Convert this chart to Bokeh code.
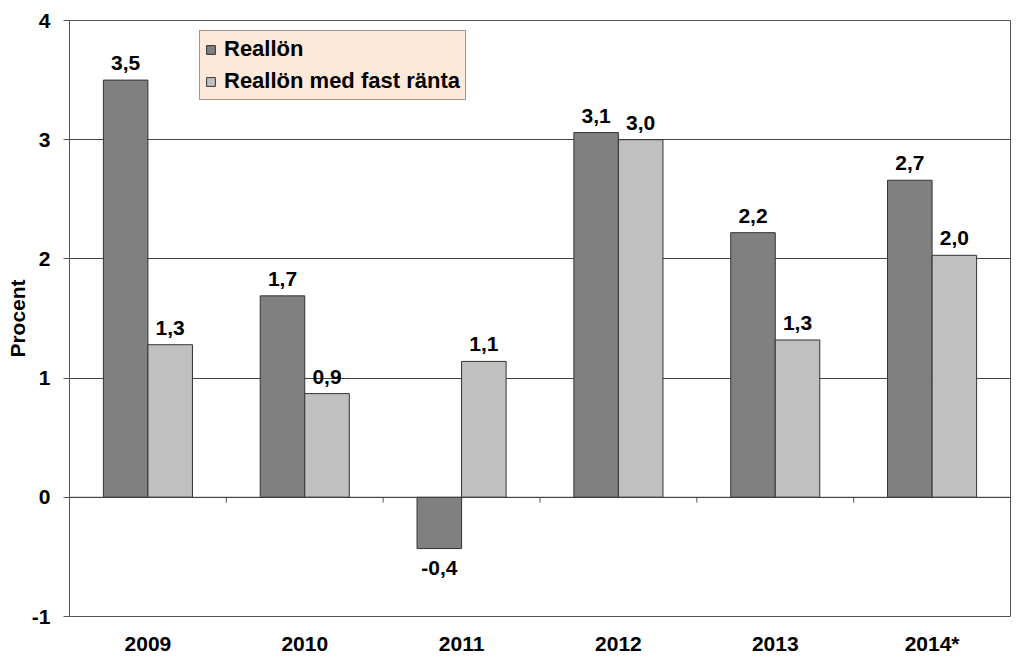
from bokeh.plotting import figure
from bokeh.models import ColumnDataSource, FixedTicker, Span, Legend, LegendItem, LabelSet
from bokeh.core.properties import value
from bokeh.embed import file_html
from bokeh.resources import INLINE

years = ["2009", "2010", "2011", "2012", "2013", "2014*"]
reallon = [3.50, 1.69, -0.43, 3.06, 2.22, 2.66]
fast = [1.28, 0.87, 1.14, 3.00, 1.32, 2.03]
reallon_lbl = ["3,5", "1,7", "-0,4", "3,1", "2,2", "2,7"]
fast_lbl = ["1,3", "0,9", "1,1", "3,0", "1,3", "2,0"]
y_ticks = [-1, 0, 1, 2, 3, 4]

FONT = "Liberation Sans"
FS = "21px"
BW = 0.284
idx = list(range(len(years)))

src_a = ColumnDataSource(dict(x=[i + 0.5 - BW / 2 for i in idx], top=reallon))
src_b = ColumnDataSource(dict(x=[i + 0.5 + BW / 2 for i in idx], top=fast))

p = figure(frame_width=941, frame_height=596, x_range=(0, len(years)), y_range=(-1, 4),
           output_backend="svg", toolbar_location=None,
           min_border_left=69, min_border_top=20, min_border_right=6, min_border_bottom=43)
p.background_fill_color = "white"
p.outline_line_color = "#555555"
p.outline_line_width = 1

# y axis
p.yaxis.ticker = FixedTicker(ticks=y_ticks)
p.yaxis.major_label_overrides = {t: str(t) for t in y_ticks}
p.yaxis.axis_line_color = "#555555"
p.yaxis.major_tick_out = 6
p.yaxis.major_tick_in = 0
p.yaxis.major_tick_line_color = "#555555"
p.yaxis.minor_tick_line_color = None
p.yaxis.major_label_text_font = FONT
p.yaxis.major_label_text_font_style = "bold"
p.yaxis.major_label_text_font_size = FS
p.yaxis.major_label_text_color = "black"
p.yaxis.major_label_standoff = 13
p.yaxis.axis_label = "Procent"
p.yaxis.axis_label_text_font = FONT
p.yaxis.axis_label_text_font_style = "bold"
p.yaxis.axis_label_text_font_size = "21px"
p.yaxis.axis_label_text_color = "black"
p.yaxis.axis_label_standoff = 0

# x axis
p.xaxis.ticker = FixedTicker(ticks=[i + 0.5 for i in idx])
p.xaxis.major_label_overrides = {i + 0.5: y for i, y in zip(idx, years)}
p.xaxis.axis_line_color = None
p.xaxis.major_tick_line_color = None
p.xaxis.minor_tick_line_color = None
p.xaxis.major_label_text_font = FONT
p.xaxis.major_label_text_font_style = "bold"
p.xaxis.major_label_text_font_size = FS
p.xaxis.major_label_text_color = "black"
p.xaxis.major_label_standoff = 9

p.xgrid.grid_line_color = None
p.ygrid.grid_line_color = "#444444"
p.ygrid.grid_line_width = 1

# category boundary ticks on zero line
bx = [i for i in range(1, len(years))]
p.segment(x0=bx, x1=bx, y0=[0] * len(bx), y1=[-0.045] * len(bx), line_color="#555555", line_width=1)

r_a = p.vbar(x="x", top="top", bottom=0, width=BW, source=src_a,
             fill_color="#808080", line_color="#333333", line_width=1)
r_b = p.vbar(x="x", top="top", bottom=0, width=BW, source=src_b,
             fill_color="#C0C0C0", line_color="#333333", line_width=1)

p.add_layout(Span(location=0, dimension="width", line_color="#444444", line_width=1))

# data labels
pos_a = ColumnDataSource(dict(x=[src_a.data["x"][i] for i in idx if reallon[i] >= 0],
                              y=[reallon[i] for i in idx if reallon[i] >= 0],
                              t=[reallon_lbl[i] for i in idx if reallon[i] >= 0]))
neg_a = ColumnDataSource(dict(x=[src_a.data["x"][i] for i in idx if reallon[i] < 0],
                              y=[reallon[i] for i in idx if reallon[i] < 0],
                              t=[reallon_lbl[i] for i in idx if reallon[i] < 0]))
lab_b = ColumnDataSource(dict(x=src_b.data["x"], y=fast, t=fast_lbl))

for s, base, off in [(pos_a, "bottom", 10), (lab_b, "bottom", 10), (neg_a, "top", -12)]:
    p.add_layout(LabelSet(x="x", y="y", text="t", source=s, text_align="center",
                          text_baseline=base, y_offset=off, text_font=value(FONT),
                          text_font_style="bold", text_font_size=FS, text_color="black"))

legend = Legend(items=[LegendItem(label="Reallön", renderers=[r_a]),
                       LegendItem(label="Reallön med fast ränta", renderers=[r_b])],
                location=(130, 516))
legend.background_fill_color = "#FDE9D9"
legend.background_fill_alpha = 1
legend.border_line_color = "#444444"
legend.border_line_width = 1
legend.label_text_font = FONT
legend.label_text_font_style = "bold"
legend.label_text_font_size = "22px"
legend.label_text_color = "black"
legend.glyph_width = 11
legend.glyph_height = 11
legend.label_standoff = 8
legend.spacing = 6
legend.padding = 5
legend.margin = 0
p.add_layout(legend, "center")

open("out.html", "w").write(file_html(p, INLINE))
